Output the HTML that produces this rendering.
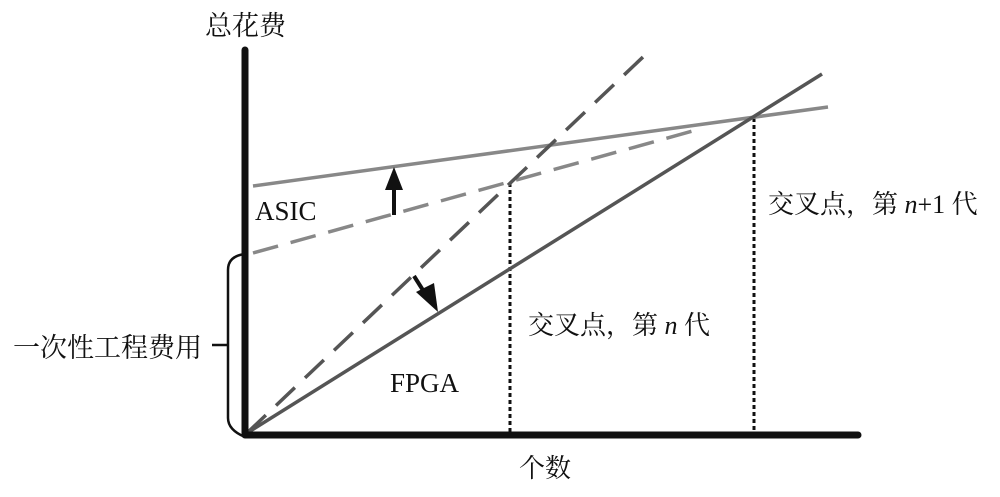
<!DOCTYPE html>
<html><head><meta charset="utf-8"><style>
html,body{margin:0;padding:0;background:#fff;}
svg{display:block}
text{font-family:"Liberation Serif","Noto Serif CJK SC",serif;fill:#111;}
</style></head><body>
<svg width="1000" height="497" viewBox="0 0 1000 497" xmlns="http://www.w3.org/2000/svg">
<line x1="510" y1="183" x2="510" y2="433" stroke="#111" stroke-width="3" stroke-dasharray="4,3"/>
<line x1="754" y1="118" x2="754" y2="433" stroke="#111" stroke-width="3" stroke-dasharray="4,3"/>
<line x1="253" y1="186" x2="828" y2="107" stroke="#888" stroke-width="3.5"/>
<line x1="253" y1="253" x2="700" y2="129" stroke="#888" stroke-width="3.5" stroke-dasharray="26,13"/>
<line x1="247" y1="433" x2="822" y2="74" stroke="#555" stroke-width="3.5"/>
<line x1="247" y1="433" x2="643" y2="57" stroke="#555" stroke-width="3.5" stroke-dasharray="26,14"/>
<line x1="394" y1="215" x2="394" y2="188" stroke="#111" stroke-width="4"/>
<polygon points="385,190 403,190 394,167" fill="#111"/>
<line x1="414" y1="276" x2="426" y2="295" stroke="#111" stroke-width="4"/>
<polygon points="416,292 434,283 438,312" fill="#111"/>
<line x1="245" y1="50" x2="245" y2="434" stroke="#111" stroke-width="7" stroke-linecap="round"/>
<line x1="245" y1="435" x2="858" y2="435" stroke="#111" stroke-width="7" stroke-linecap="round"/>
<path d="M245,254 Q228,256 228,270 L228,418 Q228,430 245,437" fill="none" stroke="#111" stroke-width="2.5"/>
<line x1="212" y1="345" x2="228" y2="345" stroke="#111" stroke-width="2.5"/>
<text x="205" y="35" font-size="27">总花费</text>
<text x="255" y="220" font-size="27">ASIC</text>
<text x="390" y="392" font-size="27">FPGA</text>
<text x="528" y="334" font-size="26">交叉点，第 <tspan font-style="italic">n</tspan> 代</text>
<text x="768" y="213" font-size="26">交叉点，第 <tspan font-style="italic">n</tspan>+1 代</text>
<text x="13" y="357" font-size="27">一次性工程费用</text>
<text x="519" y="477" font-size="26">个数</text>
</svg>
</body></html>
